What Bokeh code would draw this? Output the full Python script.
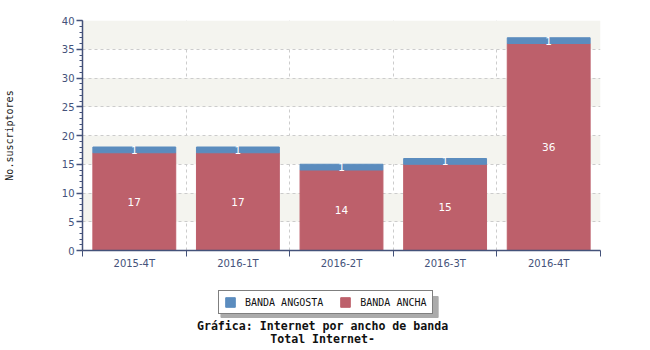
from bokeh.plotting import figure
from bokeh.layouts import column
from bokeh.models import (ColumnDataSource, FixedTicker, Legend, LegendItem, Range1d)
from bokeh.embed import file_html
from bokeh.resources import INLINE
from bokeh.core.properties import value

categories = ["2015-4T", "2016-1T", "2016-2T", "2016-3T", "2016-4T"]
banda_ancha = [17, 17, 14, 15, 36]
banda_angosta = [1, 1, 1, 1, 1]
y_ticks = [0, 5, 10, 15, 20, 25, 30, 35, 40]
series_names = ["BANDA ANGOSTA", "BANDA ANCHA"]
title_lines = ["Gráfica: Internet por ancho de banda", "Total Internet-"]

RED = "#bd606b"
BLUE = "#5b8cbe"
AXC = "#44527a"

xs = [i + 0.5 for i in range(len(categories))]
src = ColumnDataSource(dict(
    x=xs, red=banda_ancha,
    blue=[a + b for a, b in zip(banda_ancha, banda_angosta)],
    red_mid=[v / 2 for v in banda_ancha],
    blue_mid=[a + b / 2 for a, b in zip(banda_ancha, banda_angosta)],
    red_lbl=[str(v) for v in banda_ancha],
    blue_lbl=[str(v) for v in banda_angosta],
))

p = figure(width=650, height=272, output_backend="svg", toolbar_location=None,
           x_range=Range1d(0, len(categories)), y_range=Range1d(0, 40),
           min_border_left=80, min_border_right=50, min_border_top=20, min_border_bottom=22)
p.outline_line_color = None

p.vbar(x="x", bottom=0, top="red", width=0.8, color=RED, source=src)
p.vbar(x="x", bottom="red", top="blue", width=0.8, color=BLUE, source=src)

for ycol, tcol in (("red_mid", "red_lbl"), ("blue_mid", "blue_lbl")):
    p.text(x="x", y=ycol, text=tcol, source=src, text_color="white",
           text_align="center", text_baseline="middle", text_font_size="10.5px",
           text_font=value("DejaVu Sans"))

# axes
p.xaxis.ticker = FixedTicker(ticks=xs, minor_ticks=list(range(len(categories) + 1)))
p.xaxis.major_label_overrides = {x: c for x, c in zip(xs, categories)}
p.xaxis.major_tick_out = 0
p.xaxis.major_tick_in = 0
p.xaxis.minor_tick_out = 6
p.xaxis.minor_tick_in = 0
p.xaxis.major_label_standoff = 1
p.yaxis.ticker = FixedTicker(ticks=y_ticks, minor_ticks=list(range(0, 41)))
p.yaxis.major_tick_out = 6
p.yaxis.major_tick_in = 0
p.yaxis.minor_tick_out = 3
p.yaxis.minor_tick_in = 0
p.yaxis.major_label_standoff = 2
for ax in (p.xaxis[0], p.yaxis[0]):
    ax.axis_line_color = AXC
    ax.axis_line_width = 1.5
    ax.major_tick_line_color = AXC
    ax.minor_tick_line_color = AXC
    ax.major_tick_line_width = 1.5
    ax.minor_tick_line_width = 1
    ax.major_label_text_color = AXC
    ax.major_label_text_font = "DejaVu Sans"
    ax.major_label_text_font_size = "10px"
p.yaxis.axis_label = "No.suscriptores"
p.yaxis.axis_label_text_font = "DejaVu Sans Mono"
p.yaxis.axis_label_text_font_style = "normal"
p.yaxis.axis_label_text_font_size = "10px"
p.yaxis.axis_label_text_color = "#222222"
p.yaxis.axis_label_standoff = 44

# grids
p.ygrid.ticker = FixedTicker(ticks=y_ticks)
p.ygrid.grid_line_color = "#cccccc"
p.ygrid.grid_line_dash = "3 3"
p.ygrid.band_fill_color = "#f4f4ef"
p.ygrid.band_fill_alpha = 1
p.xgrid.ticker = FixedTicker(ticks=list(range(1, len(categories) + 1)))
p.xgrid.grid_line_color = "#cccccc"
p.xgrid.grid_line_dash = "3 3"

# footer: legend + title; frame aligned to main plot (x 80..600 in page pixels),
# y measured in pixels from the top of this panel
H2 = 78
f = figure(width=650, height=H2, output_backend="svg", toolbar_location=None,
           x_range=Range1d(80, 600), y_range=Range1d(H2, 0),
           x_axis_type=None, y_axis_type=None,
           min_border_left=80, min_border_right=50, min_border_top=0, min_border_bottom=0)
f.outline_line_color = None
f.grid.visible = False

# legend shadow
f.quad(left=[219], right=[437], top=[24], bottom=[45], color="#ababab")
e = ColumnDataSource(dict(x=[2000], top=[2000], bottom=[2000]))
g_blue = f.vbar(x="x", top="top", bottom="bottom", width=1, color=BLUE, source=e)
g_red = f.vbar(x="x", top="top", bottom="bottom", width=1, color=RED, source=e)
legend = Legend(items=[LegendItem(label=series_names[0], renderers=[g_blue]),
                       LegendItem(label=series_names[1], renderers=[g_red])],
                orientation="horizontal", location=(216 - 80, H2 - 42),
                label_text_font="DejaVu Sans Mono", label_text_font_size="10px",
                label_text_color="#111111", glyph_width=12, glyph_height=12,
                label_height=12, padding=5, spacing=16, margin=0,
                border_line_color="#000000", border_line_width=1,
                background_fill_color="white", background_fill_alpha=1,
                label_standoff=9)
f.add_layout(legend, "center")

f.text(x=[321, 321], y=[53, 66], text=title_lines,
       text_font=value("DejaVu Sans Mono"), text_font_style="bold",
       text_font_size="11.6px", text_align="center", text_baseline="middle",
       text_color="#111111")

layout = column(p, f, spacing=0)
open("out.html", "w").write(file_html(layout, INLINE))
